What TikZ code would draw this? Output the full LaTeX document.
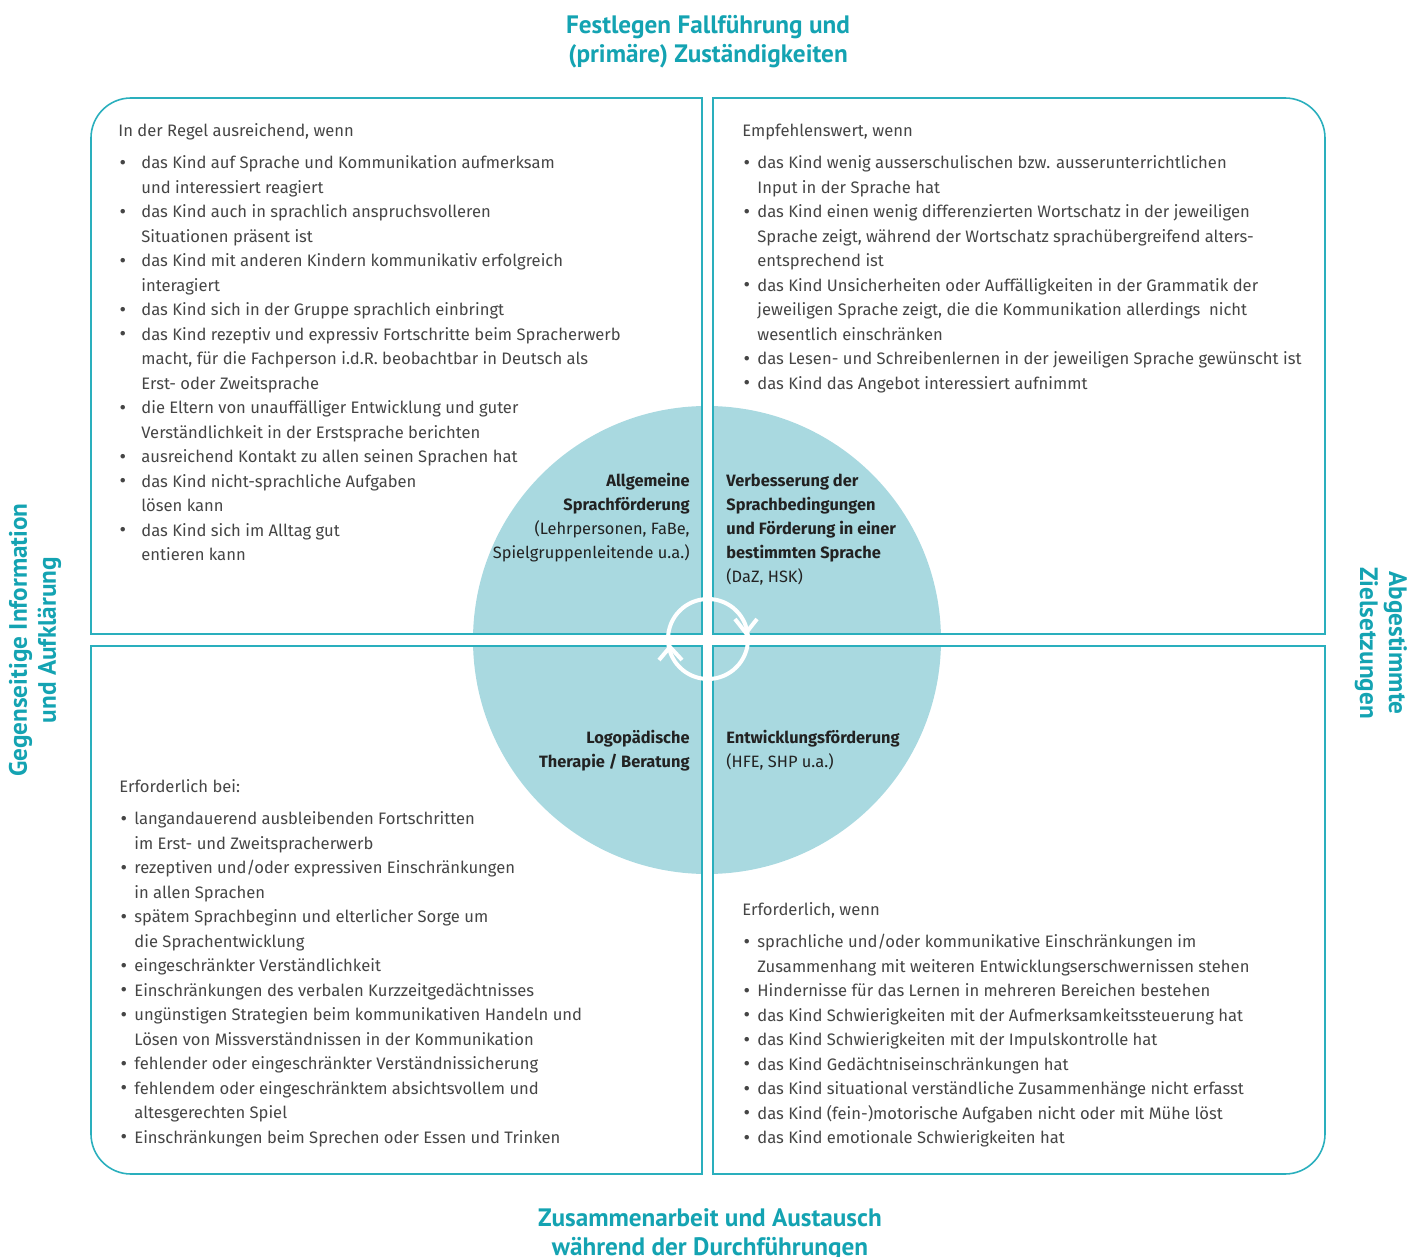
\documentclass[tikz,border=0pt]{standalone}
\usepackage{fontspec}
\setmainfont{Fira Sans}
\newfontfamily\titlefont{PT Sans}
\definecolor{tealline}{HTML}{2AAFBD}
\definecolor{tealtitle}{HTML}{14A3B2}
\definecolor{circfill}{HTML}{A9D9E0}
\definecolor{bodygray}{HTML}{454545}
\definecolor{darktext}{HTML}{222222}
\newcommand\bul[1]{\makebox[#1][l]{\hspace*{0.6pt}\raisebox{-0.3pt}{\fontsize{10}{10}\selectfont\textbullet}}}
\newcommand\ind[1]{\makebox[#1]{}}
\begin{document}
\begin{tikzpicture}[x=0.5pt,y=-0.5pt,
  quad/.style={draw=tealline, line width=0.8pt},
  body/.style={font=\fontsize{8.3}{12.25}\selectfont, text=bodygray, align=left, inner sep=0pt, anchor=north west},
  ctxtr/.style={font=\fontsize{8.2}{12}\selectfont, text=darktext, align=right, inner sep=0pt, anchor=north east},
  ctxtl/.style={font=\fontsize{8.2}{12}\selectfont, text=darktext, align=left, inner sep=0pt, anchor=north west},
  ttl/.style={font=\titlefont\bfseries\fontsize{12.6}{14.5}\selectfont, text=tealtitle, align=center, inner sep=0pt},
  cyc/.style={draw=white, line width=2pt}
]
\useasboundingbox (0,0) rectangle (1421,1257);
% circle
\fill[circfill] (707,640) circle[radius=117pt];
% white cross gaps
\fill[white] (702.5,390) rectangle (712.5,890);
\fill[white] (460,634.5) rectangle (955,645.5);
% quadrant boxes
\draw[quad] (702,634) -- (91,634) -- (91,138) arc[start angle=180,end angle=90,radius=20pt] -- (702,98) -- cycle;
\draw[quad] (713,634) -- (1325,634) -- (1325,138) arc[start angle=0,end angle=90,radius=20pt] -- (713,98) -- cycle;
\draw[quad] (702,646) -- (91,646) -- (91,1134) arc[start angle=180,end angle=270,radius=20pt] -- (702,1174) -- cycle;
\draw[quad] (713,646) -- (1325,646) -- (1325,1134) arc[start angle=0,end angle=-90,radius=20pt] -- (713,1174) -- cycle;
% cycle arrows
\draw[cyc] (708,639) circle[radius=20pt];
\coordinate (ra) at (735,619); \coordinate (rt) at (746,633); \coordinate (rb) at (757,619);
\draw[cyc] (ra) -- (rt) -- (rb);
\coordinate (la) at (659,660); \coordinate (lt) at (670,647); \coordinate (lb) at (682,660);
\draw[cyc] (la) -- (lt) -- (lb);
% titles
\node[ttl] (ttop) at (708,42) {Festlegen Fallführung und\\(primäre) Zuständigkeiten};
\node[ttl] (tbot) at (710,1235) {Zusammenarbeit und Austausch\\während der Durchführungen};
\node[ttl, rotate=90] (tleft) at (35,640) {Gegenseitige Information\\und Aufklärung};
\node[ttl, rotate=-90] (tright) at (1381,643) {Abgestimmte\\Zielsetzungen};
% top-left text
\node[body] (tltext) at (118,119) {\strut In der Regel ausreichend, wenn\\[3.75pt]
\bul{11.5pt}das Kind auf Sprache und Kommunikation aufmerksam\\
\ind{11.5pt}und interessiert reagiert\\
\bul{11.5pt}das Kind auch in sprachlich anspruchsvolleren\\
\ind{11.5pt}Situationen präsent ist\\
\bul{11.5pt}das Kind mit anderen Kindern kommunikativ erfolgreich\\
\ind{11.5pt}interagiert\\
\bul{11.5pt}das Kind sich in der Gruppe sprachlich einbringt\\
\bul{11.5pt}das Kind rezeptiv und expressiv Fortschritte beim Spracherwerb\\
\ind{11.5pt}macht, für die Fachperson i.d.R. beobachtbar in Deutsch als\\
\ind{11.5pt}Erst- oder Zweitsprache\\
\bul{11.5pt}die Eltern von unauffälliger Entwicklung und guter\\
\ind{11.5pt}Verständlichkeit in der Erstsprache berichten\\
\bul{11.5pt}ausreichend Kontakt zu allen seinen Sprachen hat\\
\bul{11.5pt}das Kind nicht-sprachliche Aufgaben\\
\ind{11.5pt}lösen kann\\
\bul{11.5pt}das Kind sich im Alltag gut\\
\ind{11.5pt}entieren kann};
% top-right text
\node[body] (trtext) at (742,119) {\strut Empfehlenswert, wenn\\[3.75pt]
\bul{7.5pt}das Kind wenig ausserschulischen bzw. ausserunterrichtlichen\\
\ind{7.5pt}Input in der Sprache hat\\
\bul{7.5pt}das Kind einen wenig differenzierten Wortschatz in der jeweiligen\\
\ind{7.5pt}Sprache zeigt, während der Wortschatz sprachübergreifend alters-\\
\ind{7.5pt}entsprechend ist\\
\bul{7.5pt}das Kind Unsicherheiten oder Auffälligkeiten in der Grammatik der\\
\ind{7.5pt}jeweiligen Sprache zeigt, die die Kommunikation allerdings\ \ nicht\\
\ind{7.5pt}wesentlich einschränken\\
\bul{7.5pt}das Lesen- und Schreibenlernen in der jeweiligen Sprache gewünscht ist\\
\bul{7.5pt}das Kind das Angebot interessiert aufnimmt};
% bottom-left text
\node[body] (bltext) at (119,775) {\strut Erforderlich bei:\\[3.75pt]
\bul{7.5pt}langandauerend ausbleibenden Fortschritten\\
\ind{7.5pt}im Erst- und Zweitspracherwerb\\
\bul{7.5pt}rezeptiven und/oder expressiven Einschränkungen\\
\ind{7.5pt}in allen Sprachen\\
\bul{7.5pt}spätem Sprachbeginn und elterlicher Sorge um\\
\ind{7.5pt}die Sprachentwicklung\\
\bul{7.5pt}eingeschränkter Verständlichkeit\\
\bul{7.5pt}Einschränkungen des verbalen Kurzzeitgedächtnisses\\
\bul{7.5pt}ungünstigen Strategien beim kommunikativen Handeln und\\
\ind{7.5pt}Lösen von Missverständnissen in der Kommunikation\\
\bul{7.5pt}fehlender oder eingeschränkter Verständnissicherung\\
\bul{7.5pt}fehlendem oder eingeschränktem absichtsvollem und\\
\ind{7.5pt}altesgerechten Spiel\\
\bul{7.5pt}Einschränkungen beim Sprechen oder Essen und Trinken};
% bottom-right text
\node[body] (brtext) at (742,898) {\strut Erforderlich, wenn\\[3.75pt]
\bul{7.5pt}sprachliche und/oder kommunikative Einschränkungen im\\
\ind{7.5pt}Zusammenhang mit weiteren Entwicklungserschwernissen stehen\\
\bul{7.5pt}Hindernisse für das Lernen in mehreren Bereichen bestehen\\
\bul{7.5pt}das Kind Schwierigkeiten mit der Aufmerksamkeitssteuerung hat\\
\bul{7.5pt}das Kind Schwierigkeiten mit der Impulskontrolle hat\\
\bul{7.5pt}das Kind Gedächtniseinschränkungen hat\\
\bul{7.5pt}das Kind situational verständliche Zusammenhänge nicht erfasst\\
\bul{7.5pt}das Kind (fein-)motorische Aufgaben nicht oder mit Mühe löst\\
\bul{7.5pt}das Kind emotionale Schwierigkeiten hat};
% circle texts
\node[ctxtr] (ctl) at (690,469) {\strut\textbf{Allgemeine}\\\textbf{Sprachförderung}\\(Lehrpersonen, FaBe,\\Spielgruppenleitende u.a.)};
\node[ctxtl] (ctr) at (726,469) {\strut\textbf{Verbesserung der}\\\textbf{Sprachbedingungen}\\\textbf{und Förderung in einer}\\\textbf{bestimmten Sprache}\\(DaZ, HSK)};
\node[ctxtr] (cbl) at (690,726) {\strut\textbf{Logopädische}\\\textbf{Therapie / Beratung}};
\node[ctxtl] (cbr) at (726,726) {\strut\textbf{Entwicklungsförderung}\\(HFE, SHP u.a.)};
\end{tikzpicture}
\end{document}
